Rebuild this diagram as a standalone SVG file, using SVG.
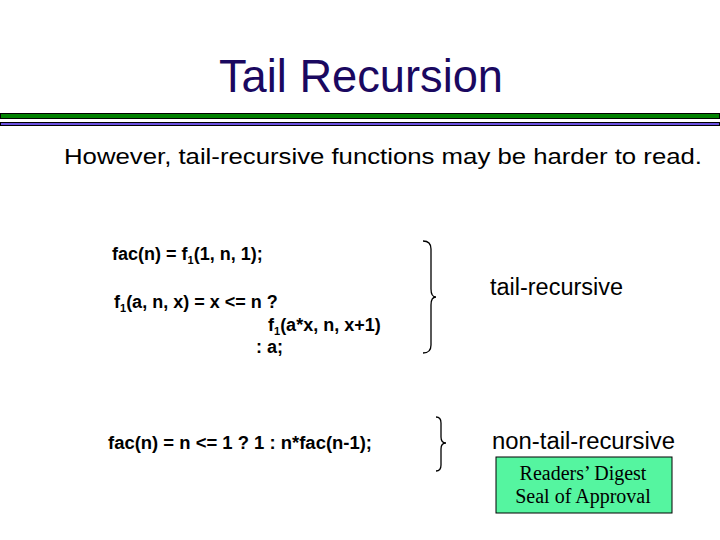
<svg xmlns="http://www.w3.org/2000/svg" width="720" height="540" viewBox="0 0 720 540">
<style>
.title{font-family:"Liberation Sans",Arial,sans-serif;font-size:46px;fill:#1a0860}
.sub{font-family:"Liberation Sans",Arial,sans-serif;font-size:22px;fill:#000}
.code{font-family:"Liberation Sans",Arial,sans-serif;font-size:18px;font-weight:bold;fill:#000}
.lbl{font-family:"Liberation Sans",Arial,sans-serif;font-size:23.5px;fill:#000}
.box{font-family:"Liberation Serif","Times New Roman",serif;font-size:20px;fill:#000}
.brace{fill:none;stroke:#000;stroke-width:1.3}
</style>
<rect width="720" height="540" fill="#fff"/>
<g id="title">
<text class="title" x="219" y="92" textLength="284" lengthAdjust="spacingAndGlyphs">Tail Recursion</text>
</g>
<g id="rules">
<rect x="0.5" y="113.5" width="719" height="5" fill="#008000" stroke="#000" stroke-width="1"/>
<rect x="0.5" y="122.5" width="719" height="3" fill="#6a50e0" stroke="#000" stroke-width="1"/>
</g>
<g id="subtitle">
<text class="sub" x="64" y="164" textLength="638" lengthAdjust="spacingAndGlyphs">However, tail-recursive functions may be harder to read.</text>
</g>
<g id="code">
<text class="code" x="112" y="260">fac(n) = f<tspan font-size="11" dy="4">1</tspan><tspan dy="-4">(1, n, 1);</tspan></text>
<text class="code" x="114" y="308">f<tspan font-size="11" dy="4">1</tspan><tspan dy="-4">(a, n, x) = x &lt;= n ?</tspan></text>
<text class="code" x="268" y="331">f<tspan font-size="11" dy="4">1</tspan><tspan dy="-4">(a*x, n, x+1)</tspan></text>
<text class="code" x="256" y="353">: a;</text>
<text class="code" x="108" y="449" textLength="264" lengthAdjust="spacingAndGlyphs">fac(n) = n &lt;= 1 ? 1 : n*fac(n-1);</text>
</g>
<g id="connectors">
<path class="brace" d="M423,241 Q431,241 431,249 L431,289 Q431,297 436,297 Q431,297 431,305 L431,345 Q431,353 423,353"/>
<path class="brace" d="M436,417 Q441,417 441,423 L441,437 Q441,443 446,443 Q441,443 441,449 L441,465 Q441,471 436,471"/>
</g>
<g id="tail-label">
<text class="lbl" x="490" y="295" textLength="133" lengthAdjust="spacingAndGlyphs">tail-recursive</text>
</g>
<g id="non-tail-label">
<text class="lbl" x="492" y="449" textLength="183" lengthAdjust="spacingAndGlyphs">non-tail-recursive</text>
</g>
<g id="seal">
<rect x="496" y="457" width="176" height="56" fill="#55f5a0" stroke="#000" stroke-width="1"/>
<text class="box" x="583" y="480" text-anchor="middle">Readers’ Digest</text>
<text class="box" x="583" y="503" text-anchor="middle">Seal of Approval</text>
</g>
</svg>
